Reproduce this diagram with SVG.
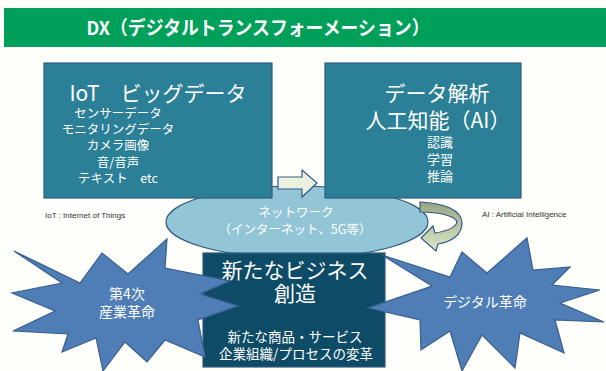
<svg xmlns="http://www.w3.org/2000/svg" width="606" height="371" viewBox="0 0 606 371">
<defs>
<style>
.t{font-family:"Noto Sans CJK JP","Liberation Sans",sans-serif;fill:#fff;text-anchor:middle}
.s{font-family:"Liberation Sans","Noto Sans CJK JP",sans-serif;fill:#333;font-size:8px}
.box{stroke:#2F5A7F;stroke-width:1.2}
.star{fill:#4F7DB5;stroke:#3A5F8F;stroke-width:1.2;stroke-linejoin:miter}
</style>
<linearGradient id="cg" x1="0" y1="0" x2="0" y2="1">
<stop offset="0" stop-color="#98A584"/>
<stop offset="1" stop-color="#DCE8C4"/>
</linearGradient>
</defs>
<rect x="0" y="0" width="606" height="371" fill="#FEFEFA"/>
<g id="title">
<rect x="4" y="8" width="602" height="39" fill="#00A05A"/>
<text class="t" x="258" y="35" font-size="19" font-weight="bold" textLength="343" lengthAdjust="spacingAndGlyphs">DX（デジタルトランスフォーメーション）</text>
</g>
<g id="network">
<ellipse cx="297" cy="222" rx="131" ry="36" fill="#92C5D6" stroke="#2F5A7F" stroke-width="1.2"/>
<text class="t" x="296" y="217" font-size="12.5">ネットワーク</text>
<text class="t" x="295" y="234" font-size="12.5">（インターネット、5G等）</text>
</g>
<g id="iot">
<rect class="box" x="44" y="63" width="228" height="135" fill="#2B7F96"/>
<text class="t" x="158" y="101" font-size="21">IoT　ビッグデータ</text>
<text class="t" x="118" y="118" font-size="12.5">センサーデータ</text>
<text class="t" x="118" y="134" font-size="12.5">モニタリングデータ</text>
<text class="t" x="118" y="150" font-size="12.5">カメラ画像</text>
<text class="t" x="118" y="167" font-size="12.5">音/音声</text>
<text class="t" x="118" y="183" font-size="12.5">テキスト　etc</text>
</g>
<g id="ai">
<rect class="box" x="325" y="63" width="196" height="135" fill="#2B7F96"/>
<text class="t" x="437" y="101" font-size="21">データ解析</text>
<text class="t" x="438" y="128" font-size="21">人工知能（AI）</text>
<text class="t" x="440" y="147" font-size="13">認識</text>
<text class="t" x="440" y="164" font-size="13">学習</text>
<text class="t" x="440" y="181" font-size="13">推論</text>
</g>
<g id="business">
<rect class="box" x="203" y="253" width="182" height="114" fill="#0E4B66"/>
<text class="t" x="295" y="278" font-size="21">新たなビジネス</text>
<text class="t" x="295" y="301" font-size="21">創造</text>
<text class="t" x="295" y="342" font-size="13.5">新たな商品・サービス</text>
<text class="t" x="296" y="359" font-size="13.5">企業組織/プロセスの変革</text>
</g>
<g id="industry4">
<polygon class="star" points="14,251 80,283 102,253 128,274 167,239 165,268 230,281 200,294 238,306 198,320 205,357 165,340 147,362 125,342 103,371 96,338 62,352 68,334 13,331 55,311 12,293 62,283"/>
<text class="t" x="127" y="299" font-size="14">第4次</text>
<text class="t" x="127" y="317" font-size="14">産業革命</text>
</g>
<g id="digital">
<polygon class="star" points="382,255 450,277 462,252 487,273 527,238 533,270 570,267 552,285 600,290 560,303 604,322 555,320 564,353 520,333 515,368 482,335 462,371 450,331 421,350 420,320 368,308 432,286"/>
<text class="t" x="485" y="307" font-size="14">デジタル革命</text>
</g>
<g id="connectors">
<path d="M278,177 L302,177 L302,170 L317,183 L302,197 L302,189 L278,189 Z" fill="#EBF1DE" stroke="#2F5A8A" stroke-width="1.2" stroke-linejoin="miter"/>
<path d="M420,202 C444,203 462,210 462,223 C462,235 451,242 438,244 L436,251 L421,238 L433,226 L435,233 C447,231 456,227 457,222 C455,216 440,212 420,212 Z" fill="url(#cg)" stroke="#2F5A8A" stroke-width="1.2" stroke-linejoin="miter"/>
</g>
<g id="labels">
<text class="s" x="45" y="218">IoT : Internet of Things</text>
<text class="s" x="482" y="217">AI : Artificial Intelligence</text>
</g>
</svg>
